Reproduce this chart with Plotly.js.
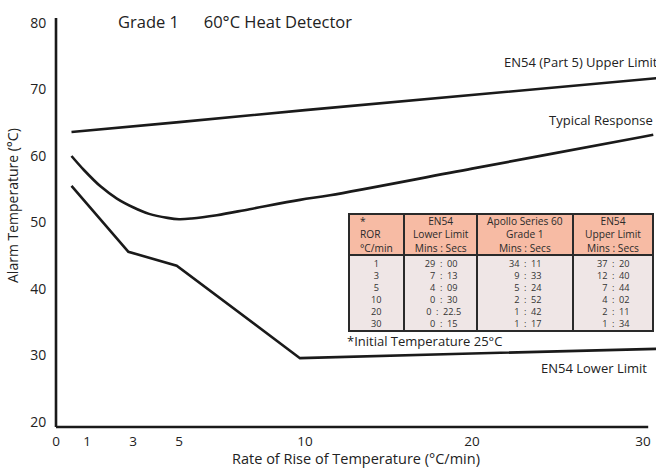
<!DOCTYPE html>
<html><head><meta charset="utf-8">
<script src="https://cdn.plot.ly/plotly-3.0.1.min.js"></script>
<style>html,body{margin:0;padding:0;background:#fff}#chart{width:656px;height:468px}</style>
</head><body><div id="chart"></div>
<script>
// ---- data ----
const tickValues = [0, 1, 3, 5, 10, 20, 30];
const tickLabels = ['0', '1', '3', '5', '10', '20', '30'];
// non-linear (piecewise) horizontal scale used by the original figure
const tickAxisPos = [0, 31, 77, 123, 249, 416, 587];

const upperX = [0.5, 1, 3, 5, 10, 20, 30, 30.8];
const upperY = [63.6, 63.8, 64.5, 65.1, 66.9, 69.2, 71.6, 71.7];

const typicalX = [0.5, 0.9, 1.6, 2.3, 3, 3.7, 4.5, 5.0, 5.5, 6.5, 7.8, 9.8, 11.5, 20, 30, 30.6];
const typicalY = [60.0, 57.9, 55.4, 53.6, 52.3, 51.3, 50.7, 50.5, 50.6, 51.1, 52.0, 53.4, 54.1, 58.1, 62.9, 63.2];

const lowerX = [0.5, 2.8, 4.9, 9.8, 20, 30, 30.8];
const lowerY = [55.5, 45.6, 43.5, 29.6, 30.3, 30.9, 31.0];

const yTicks = [20, 30, 40, 50, 60, 70, 80];

const tableHeader = ['*<br>ROR<br>°C/min', 'EN54<br>Lower Limit<br>Mins : Secs', 'Apollo Series 60<br>Grade 1<br>Mins : Secs', 'EN54<br>Upper Limit<br>Mins : Secs'];
const rorValues = ['1', '3', '5', '10', '20', '30'];
const en54Lower = ['29 : 00', '7 : 13', '4 : 09', '0 : 30', '0 : 22.5', '0 : 15'];
const apollo60 = ['34 : 11', '9 : 33', '5 : 24', '2 : 52', '1 : 42', '1 : 17'];
const en54Upper = ['37 : 20', '12 : 40', '7 : 44', '4 : 02', '2 : 11', '1 : 34'];

// ---- scale helper ----
function warp(v) {
  let i = 0;
  while (i < tickValues.length - 2 && v > tickValues[i + 1]) i++;
  const x0 = tickValues[i], x1 = tickValues[i + 1];
  const p0 = tickAxisPos[i], p1 = tickAxisPos[i + 1];
  return p0 + (v - x0) * (p1 - p0) / (x1 - x0);
}

const FONT = '"Open Sans", "DejaVu Sans", sans-serif';
const textColor = '#222';
const lineStyle = {color: '#1a1a1a', width: 2.6};

const traces = [
  {type: 'scatter', mode: 'lines', x: upperX.map(warp), y: upperY, line: lineStyle, hoverinfo: 'skip'},
  {type: 'scatter', mode: 'lines', x: typicalX.map(warp), y: typicalY, line: Object.assign({shape: 'spline', smoothing: 1}, lineStyle), hoverinfo: 'skip'},
  {type: 'scatter', mode: 'lines', x: lowerX.map(warp), y: lowerY, line: lineStyle, hoverinfo: 'skip'}
];

// ---- table box geometry (in figure pixels), converted to paper coords ----
const PL = 56, PW = 600, PB = 427, PH = 427;
const px = v => (v - PL) / PW;
const py = v => (PB - v) / PH;
const colEdges = [349, 404, 477, 573, 653];
const rowTop = 214, headBottom = 255, tableBottom = 331;

// pad minutes to 2 digits with figure spaces (right-aligned look), widen gaps
function fmtTime(s) {
  const parts = s.split(' : ');
  const m = parts[0].length < 2 ? '\u2007' + parts[0] : parts[0];
  return m + '\u2002:\u2002' + parts[1];
}

const shapes = [
  {type: 'line', xref: 'paper', yref: 'paper', x0: 0, x1: 0, y0: 0, y1: 0.958, line: {color: '#1a1a1a', width: 2.6}},
  {type: 'line', xref: 'paper', yref: 'paper', x0: 0, x1: 0.987, y0: 0, y1: 0, line: {color: '#1a1a1a', width: 2.6}},
  {type: 'rect', xref: 'paper', yref: 'paper', x0: px(colEdges[0]), x1: px(colEdges[4]), y0: py(headBottom), y1: py(rowTop), fillcolor: '#f7bba4', line: {width: 0}, layer: 'above'},
  {type: 'rect', xref: 'paper', yref: 'paper', x0: px(colEdges[0]), x1: px(colEdges[4]), y0: py(tableBottom), y1: py(headBottom), fillcolor: '#efe6e6', line: {width: 0}, layer: 'above'}
];
colEdges.forEach(e => shapes.push({type: 'line', xref: 'paper', yref: 'paper', x0: px(e), x1: px(e), y0: py(tableBottom), y1: py(rowTop), line: {color: '#2a2a2a', width: 2}, layer: 'above'}));
[rowTop, headBottom, tableBottom].forEach(r => shapes.push({type: 'line', xref: 'paper', yref: 'paper', x0: px(colEdges[0] - 1), x1: px(colEdges[4] + 1), y0: py(r), y1: py(r), line: {color: '#2a2a2a', width: 2}, layer: 'above'}));

const annotations = [
  {xref: 'paper', yref: 'paper', x: px(116), y: py(21), xanchor: 'left', yanchor: 'middle', showarrow: false,
   text: 'Grade 1\u2002\u2002\u200260°C Heat Detector', font: {size: 16.5, color: textColor, family: FONT}},
  {xref: 'paper', yref: 'paper', x: px(12), y: py(206), xanchor: 'center', yanchor: 'middle', showarrow: false, textangle: -90,
   text: 'Alarm Temperature (°C)', font: {size: 14, color: textColor, family: FONT}},
  {xref: 'paper', yref: 'paper', x: px(660), y: py(62), xanchor: 'right', yanchor: 'middle', showarrow: false,
   text: 'EN54 (Part 5) Upper Limit', font: {size: 13, color: textColor, family: FONT}},
  {xref: 'paper', yref: 'paper', x: px(655), y: py(120), xanchor: 'right', yanchor: 'middle', showarrow: false,
   text: 'Typical Response', font: {size: 13, color: textColor, family: FONT}},
  {xref: 'paper', yref: 'paper', x: px(649), y: py(368), xanchor: 'right', yanchor: 'middle', showarrow: false,
   text: 'EN54 Lower Limit', font: {size: 13, color: textColor, family: FONT}},
  {xref: 'paper', yref: 'paper', x: px(345), y: py(341), xanchor: 'left', yanchor: 'middle', showarrow: false,
   text: '*Initial Temperature 25°C', font: {size: 13, color: textColor, family: FONT}}
];

// header cells
tableHeader.forEach((h, i) => {
  const left = i === 0;
  annotations.push({
    xref: 'paper', yref: 'paper',
    x: left ? px(colEdges[0] + 9) : px((colEdges[i] + colEdges[i + 1]) / 2),
    y: py((rowTop + headBottom) / 2),
    xanchor: left ? 'left' : 'center', yanchor: 'middle', align: left ? 'left' : 'center',
    showarrow: false, text: h, font: {size: 10.2, color: '#2a2a2a', family: FONT}
  });
});
// body cells: one multi-line block per column
[rorValues, en54Lower.map(fmtTime), apollo60.map(fmtTime), en54Upper.map(fmtTime)].forEach((col, i) => {
  annotations.push({
    xref: 'paper', yref: 'paper',
    x: px((colEdges[i] + colEdges[i + 1]) / 2), y: py((headBottom + tableBottom) / 2 + 0.5),
    xanchor: 'center', yanchor: 'middle', align: 'center', showarrow: false,
    text: col.join('<br>'), font: {size: 9.2, color: '#333', family: FONT}
  });
});

const layout = {
  width: 656, height: 468,
  margin: {l: 56, r: 0, t: 0, b: 41},
  paper_bgcolor: '#fff', plot_bgcolor: '#fff',
  showlegend: false,
  font: {family: FONT, color: textColor},
  xaxis: {
    range: [0, 600], showgrid: false, zeroline: false, showline: false,
    tickmode: 'array', tickvals: tickValues.map(warp), ticktext: tickLabels,
    ticks: 'outside', ticklen: 2, tickcolor: 'rgba(0,0,0,0)',
    tickfont: {size: 13.5, color: textColor, family: FONT},
    title: {text: 'Rate of Rise of Temperature (°C/min)', font: {size: 14.5, color: textColor, family: FONT}, standoff: 0},
    fixedrange: true
  },
  yaxis: {
    range: [19.25, 83.46], showgrid: false, zeroline: false, showline: false,
    tickmode: 'array', tickvals: yTicks,
    ticks: 'outside', ticklen: 6, tickcolor: 'rgba(0,0,0,0)',
    tickfont: {size: 14, color: textColor, family: FONT},
    fixedrange: true
  },
  shapes: shapes,
  annotations: annotations
};

Plotly.newPlot('chart', traces, layout, {staticPlot: true, displayModeBar: false});
</script></body></html>
